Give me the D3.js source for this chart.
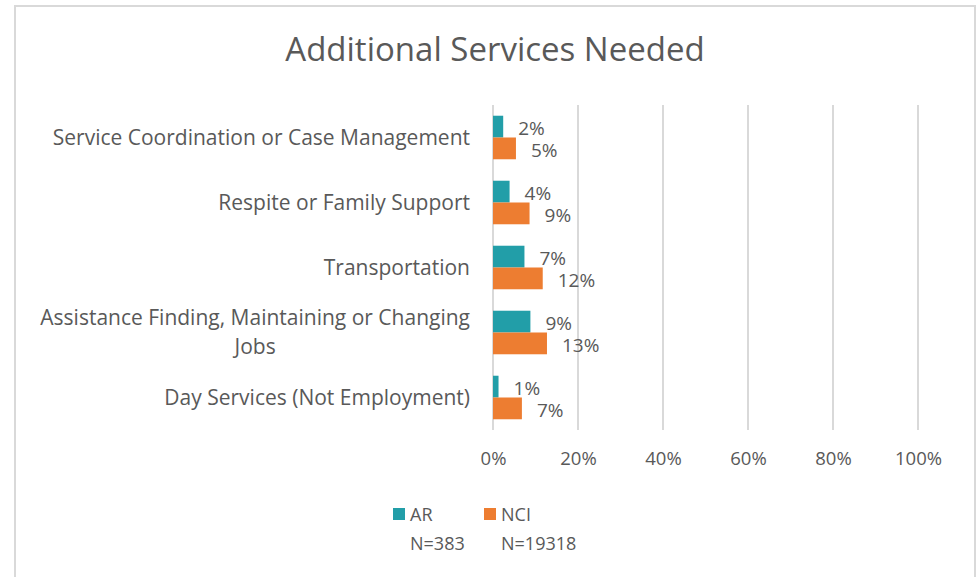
<!DOCTYPE html>
<html><head><meta charset="utf-8">
<script src="https://cdn.jsdelivr.net/npm/d3@7"></script>
<style>
html,body{margin:0;padding:0;background:#fff;}
svg text{font-family:"Open Sans",sans-serif;fill:#595959;}
</style></head>
<body><svg id="c" width="980" height="577"></svg>
<script>
const categories = [
  ["Service Coordination or Case Management"],
  ["Respite or Family Support"],
  ["Transportation"],
  ["Assistance Finding, Maintaining or Changing", "Jobs"],
  ["Day Services (Not Employment)"]
];
const categoryKeys = categories.map(c => c.join(" "));
const seriesNames = ["AR", "NCI"];
const seriesN = ["N=383", "N=19318"];
const arValues = [2.4, 3.9, 7.4, 8.8, 1.3];
const nciValues = [5.4, 8.6, 11.7, 12.7, 6.8];
const tickValues = [0, 20, 40, 60, 80, 100];
const colors = ["#229ea8", "#ed7d31"];
const title = "Additional Services Needed";

const svg = d3.select("#c");
svg.append("rect").attr("x", 15).attr("y", 6).attr("width", 960).attr("height", 600)
  .attr("fill", "none").attr("stroke", "#d9d9d9").attr("stroke-width", 2);

svg.append("text").attr("x", 495).attr("y", 61).attr("text-anchor", "middle")
  .style("font-size", "33px").text(title);

const x = d3.scaleLinear().domain([0, 100]).range([493, 918]);
const y = d3.scaleBand().domain(categoryKeys).range([105, 430]).paddingInner(0.33).paddingOuter(0.165);
const ySub = d3.scaleBand().domain(seriesNames).range([0, y.bandwidth()]);

svg.append("g").selectAll("line").data(tickValues).join("line")
  .attr("x1", d => x(d)).attr("x2", d => x(d)).attr("y1", 105).attr("y2", 430)
  .attr("stroke", "#d9d9d9").attr("stroke-width", 2);

const xAxis = d3.axisBottom(x).tickValues(tickValues).tickFormat(d => d + "%").tickSize(0).tickPadding(0);
const gx = svg.append("g").attr("transform", "translate(0,452)").call(xAxis);
gx.select(".domain").remove();
gx.selectAll("text").style("font-size", "18.5px").attr("fill", "#595959").attr("dy", "0.71em");

const gy = svg.append("g");
categories.forEach((lines, i) => {
  const cy = y(categoryKeys[i]) + y.bandwidth() / 2;
  const lh = 29;
  const y0 = cy - (lines.length - 1) * lh / 2;
  const t1 = gy.append("text").attr("x", 470).attr("y", y0).attr("dy", "0.35em")
    .attr("text-anchor", "end").style("font-size", "21px").text(lines[0]);
  if (lines.length > 1) {
    const w = t1.node().getComputedTextLength();
    for (let k = 1; k < lines.length; k++) {
      gy.append("text").attr("x", 470 - w / 2).attr("y", y0 + k * lh).attr("dy", "0.35em")
        .attr("text-anchor", "middle").style("font-size", "21px").text(lines[k]);
    }
  }
});

const labelShift = [2, 2];
const rows = categoryKeys.map((k, i) => ({ k, vals: [arValues[i], nciValues[i]] }));
rows.forEach(r => {
  r.vals.forEach((v, j) => {
    const by = y(r.k) + ySub(seriesNames[j]);
    svg.append("rect").attr("x", x(0)).attr("y", by).attr("width", x(v) - x(0))
      .attr("height", ySub.bandwidth()).attr("fill", colors[j]);
    svg.append("text").attr("x", x(v) + 15).attr("y", by + ySub.bandwidth() / 2 + labelShift[j])
      .attr("dy", "0.35em").style("font-size", "19px").text(Math.round(v) + "%");
  });
});

const lx = [393, 484];
seriesNames.forEach((s, j) => {
  svg.append("rect").attr("x", lx[j]).attr("y", 508).attr("width", 12).attr("height", 12).attr("fill", colors[j]);
  svg.append("text").attr("x", lx[j] + 17).attr("y", 521).style("font-size", "18px").text(s);
  svg.append("text").attr("x", lx[j] + 17).attr("y", 550).style("font-size", "18px").text(seriesN[j]);
});
</script></body></html>
